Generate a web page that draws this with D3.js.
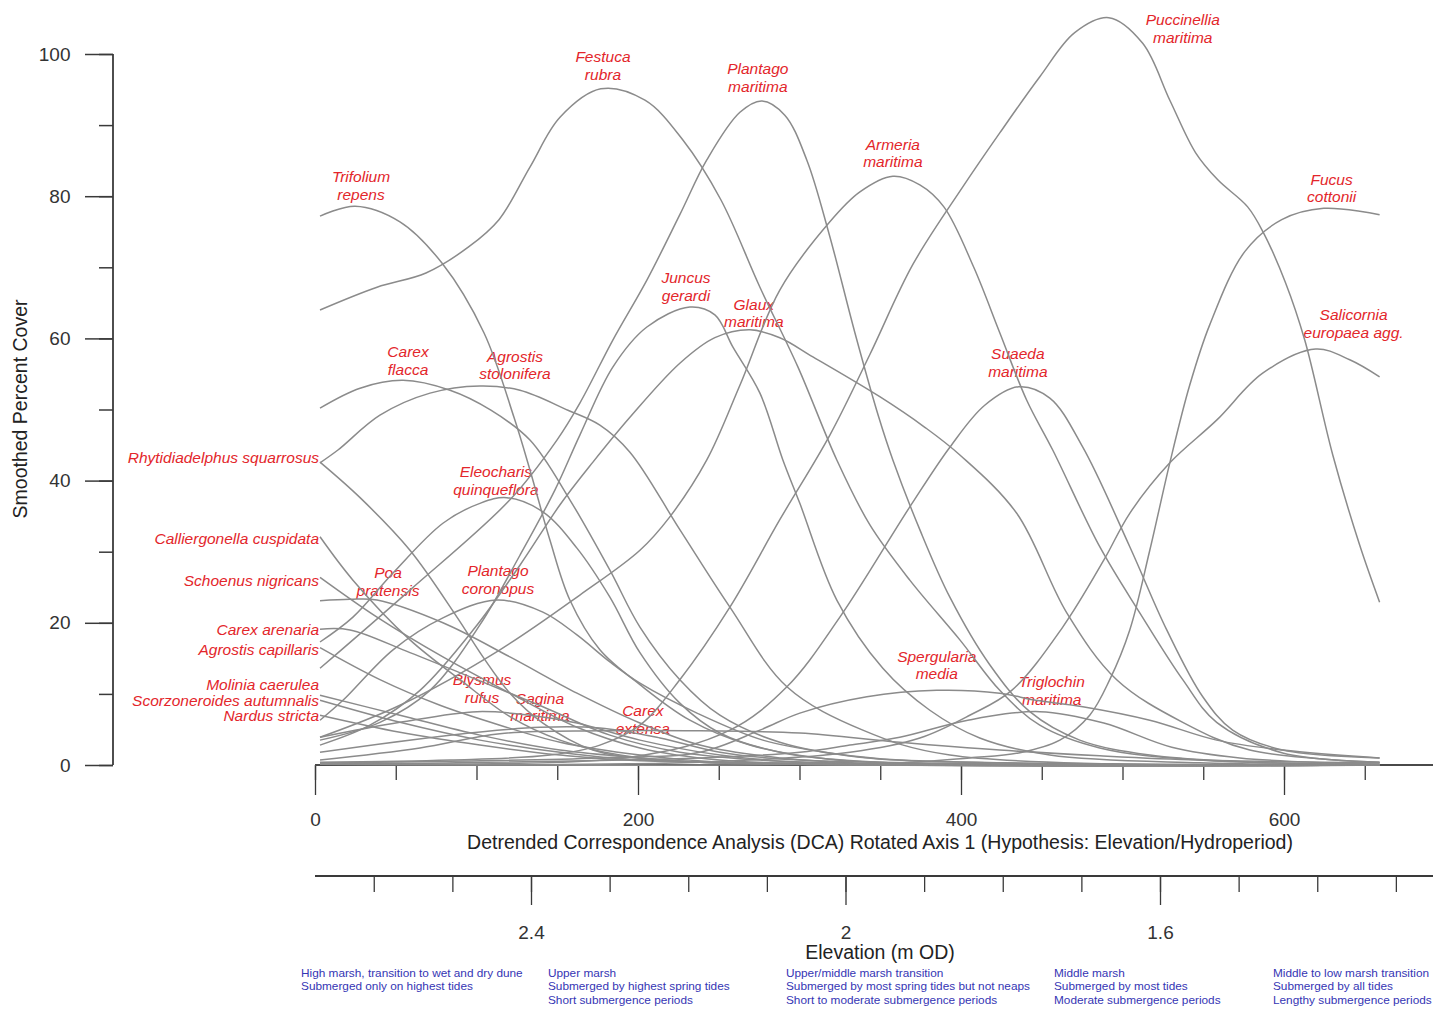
<!DOCTYPE html>
<html>
<head>
<meta charset="utf-8">
<script src="https://cdn.jsdelivr.net/npm/d3@7"></script>
<style>
  body { margin: 0; background: #fff; }
  svg { display: block; }
  text { font-family: "Liberation Sans", Arial, Helvetica, sans-serif; }
</style>
</head>
<body>
<svg id="chart" width="1433" height="1010"></svg>
<script>
// ---- Species response curves: [DCA axis 1 score, smoothed percent cover] ----
const trifoliumRepens = [[3.1,77.2],[24.8,78.6],[52.6,76.4],[78.6,70.6],[104.6,60.8],[123.2,48.9],[133.1,41.5],[145.5,31.6],[157.8,23.2],[176.4,16.2],[201.2,11.3],[232.1,6.3],[269.3,2.8],[318.8,0.8],[393.1,0.1],[659.2,0]];
const festucaRubra = [[3.1,64.0],[38.4,67.2],[68.7,69.2],[95.3,72.9],[113.9,76.7],[133.1,84.1],[151.7,91.1],[177.0,95.1],[204.3,93.5],[227.8,87.9],[251.3,79.5],[275.5,67.2],[299.0,56.0],[323.1,42.9],[343.5,33.8],[368.3,26.0],[399.3,17.6],[424.0,10.5],[448.8,5.6],[485.9,2.4],[547.8,0.7],[659.2,0.1]];
const plantagoMaritima = [[3.1,13.6],[58.8,24.6],[120.7,37.3],[149.8,45.7],[164.0,50.9],[184.5,59.8],[205.5,68.2],[225.9,77.4],[242.6,85.1],[263.1,91.8],[276.7,93.4],[290.9,91.4],[304.5,85.1],[318.2,74.8],[334.3,60.8],[349.1,48.9],[357.8,42.9],[374.5,33.1],[393.1,23.6],[417.8,14.1],[442.6,7.5],[473.5,3.5],[516.9,1.4],[578.8,0.4],[659.2,0.1]];
const armeriaMaritima = [[3.1,3.9],[52.6,8.4],[114.5,16.2],[164.0,23.9],[201.2,30.2],[219.7,34.9],[242.6,42.9],[263.1,53.4],[287.8,66.8],[318.8,76.4],[337.4,80.6],[357.8,82.8],[374.5,81.6],[389.4,78.5],[407.9,70.0],[424.0,60.8],[440.7,51.3],[456.8,44.3],[485.9,30.7],[510.7,21.4],[537.3,12.0],[558.3,6.0],[599.2,1.7],[659.2,0.4]];
const puccinelliaMaritima = [[3.1,0.4],[83.6,0.7],[145.5,1.4],[176.4,2.8],[201.2,5.6],[225.9,12.0],[256.9,22.2],[287.8,34.5],[318.8,46.4],[343.5,57.7],[370.2,70.4],[401.1,81.3],[424.0,88.9],[448.8,96.8],[470.4,103.0],[491.5,105.1],[512.5,101.5],[529.3,93.5],[545.3,86.1],[559.0,82.3],[577.5,78.5],[587.4,74.8],[601.0,67.8],[612.8,59.8],[630.2,43.6],[646.9,30.9],[659.2,22.9]];
const juncusGerardi = [[3.1,3.5],[40.2,6.0],[71.2,10.5],[102.1,19.7],[126.9,29.5],[148.6,38.7],[164.0,46.4],[184.5,56.0],[205.5,61.6],[232.1,64.4],[247.6,63.3],[258.7,58.8],[275.5,52.3],[289.7,42.9],[300.2,36.8],[323.1,23.2],[351.6,13.6],[380.7,7.7],[411.6,3.8],[455.0,1.4],[547.8,0.3],[659.2,0]];
const glauxMaritima = [[3.1,2.8],[34.0,5.6],[65.0,10.5],[99.0,19.3],[126.9,28.1],[151.7,36.6],[172.1,42.6],[195.0,48.9],[225.9,56.5],[247.6,60.1],[269.3,61.2],[287.8,60.1],[308.3,57.4],[349.7,51.8],[377.6,47.5],[399.3,43.6],[434.5,35.4],[465.5,21.4],[496.4,12.0],[537.3,6.0],[578.8,2.1],[659.2,0.4]];
const eleocharisQuinqueflora = [[3.1,17.3],[23.5,20.8],[48.3,27.0],[79.2,34.0],[102.1,36.8],[118.8,37.6],[141.1,35.6],[162.2,30.5],[182.6,23.6],[201.2,15.8],[225.9,8.7],[250.7,4.5],[287.8,1.8],[349.7,0.4],[659.2,0]];
const plantagoCoronopus = [[3.1,6.3],[17.3,9.1],[48.3,16.2],[79.2,20.7],[112.7,23.2],[141.1,21.5],[162.2,18.3],[182.6,14.5],[201.2,11.5],[236.5,7.3],[277.3,3.5],[318.8,1.7],[362.1,0.7],[659.2,0]];
const agrostisStolonifera = [[3.1,42.5],[14.2,44.3],[40.2,49.2],[71.2,52.3],[102.1,53.3],[126.9,52.7],[156.6,49.9],[176.4,47.8],[195.0,44.0],[225.9,33.1],[256.9,22.2],[292.2,11.0],[339.2,4.9],[393.1,1.4],[659.2,0]];
const carexFlacca = [[3.1,50.2],[27.9,53.0],[54.5,54.1],[83.6,52.7],[108.9,49.9],[133.1,45.7],[157.8,37.3],[182.6,27.4],[201.2,19.4],[225.9,12.0],[250.7,7.0],[287.8,3.2],[337.4,1.1],[424.0,0.3],[659.2,0]];
const rhytidiadelphusSquarrosus = [[3.1,42.6],[27.9,37.6],[58.8,30.2],[87.9,20.8],[104.0,15.2],[120.7,10.1],[141.1,5.9],[172.1,2.1],[213.6,0.7],[300.2,0.1],[659.2,0]];
const calliergonellaCuspidata = [[3.1,32.1],[23.5,26.0],[58.8,17.6],[89.8,12.0],[120.7,6.8],[151.7,3.5],[188.8,1.4],[238.3,0.4],[659.2,0]];
const schoenusNigricans = [[3.1,26.4],[38.4,20.8],[79.2,15.2],[120.7,10.1],[162.2,5.3],[201.2,2.4],[250.7,0.7],[331.2,0.1],[659.2,0]];
const poaPratensis = [[3.1,23.1],[21.7,23.3],[38.4,23.2],[79.2,20.0],[120.7,15.2],[162.2,10.1],[201.2,5.9],[238.3,2.8],[287.8,1.0],[362.1,0.1],[659.2,0]];
const carexArenaria = [[3.1,19.1],[21.7,19.0],[58.8,15.8],[100.3,12.0],[141.1,8.2],[182.6,4.2],[225.9,1.8],[275.5,0.7],[362.1,0.1],[659.2,0]];
const agrostisCapillaris = [[3.1,16.5],[40.2,12.0],[77.4,8.4],[114.5,5.6],[151.7,3.2],[201.2,1.4],[250.7,0.4],[659.2,0]];
const moliniaCaerulea = [[3.1,9.8],[52.6,7.0],[102.1,4.2],[151.7,2.1],[201.2,1.0],[250.7,0.3],[659.2,0]];
const scorzoneroidesAutumnalis = [[3.1,9.1],[52.6,6.0],[102.1,3.5],[151.7,1.8],[201.2,0.7],[659.2,0]];
const nardusStricta = [[3.1,7.0],[52.6,4.6],[102.1,2.8],[151.7,1.4],[201.2,0.6],[659.2,0]];
const blysmusRufus = [[3.1,3.9],[52.6,6.0],[100.3,7.5],[133.1,7.0],[162.2,5.9],[201.2,3.5],[250.7,1.4],[300.2,0.4],[659.2,0]];
const saginaMaritima = [[3.1,1.8],[83.6,4.2],[139.3,5.3],[176.4,5.2],[213.6,3.8],[250.7,1.8],[300.2,0.7],[659.2,0]];
const carexExtensa = [[3.1,0.7],[65.0,2.4],[114.5,4.4],[176.4,4.8],[238.3,4.8],[300.2,4.5],[362.1,3.2],[424.0,2.1],[485.9,1.3],[547.8,0.7],[659.2,0.3]];
const spergulariaMedia = [[3.1,0.3],[176.4,1.0],[238.3,1.8],[275.5,4.9],[300.2,7.3],[341.7,9.6],[385.0,10.5],[424.0,10.1],[446.3,9.1],[475.4,8.2],[516.9,6.3],[558.3,3.5],[599.2,2.1],[659.2,1.0]];
const triglochinMaritima = [[3.1,0.1],[238.3,1.0],[300.2,1.8],[331.2,2.8],[362.1,3.9],[404.2,6.3],[448.8,7.5],[488.4,5.9],[530.5,2.5],[572.6,1.0],[659.2,0.1]];
const suaedaMaritima = [[3.1,0.3],[195.0,1.1],[256.9,4.9],[292.2,11.0],[325.0,20.8],[368.3,36.3],[393.1,44.7],[414.7,50.6],[435.8,53.2],[455.0,51.6],[475.4,44.7],[504.5,30.7],[527.4,19.0],[549.7,9.6],[568.2,4.9],[599.2,2.1],[659.2,1.0]];
const fucusCottonii = [[3.1,0.1],[362.1,0.3],[405.4,1.0],[435.8,1.7],[461.2,3.5],[479.7,7.0],[492.1,12.0],[504.5,19.0],[516.9,30.2],[529.3,42.5],[541.6,53.4],[554.0,61.9],[575.7,72.2],[598.6,76.7],[624.6,78.3],[659.2,77.4]];
const salicorniaEuropaea = [[3.1,0.1],[238.3,0.4],[331.2,1.8],[374.5,3.8],[405.4,7.0],[431.4,10.5],[463.0,19.4],[488.4,28.8],[504.5,35.4],[529.3,42.5],[558.3,48.5],[586.8,55.1],[619.6,58.5],[640.7,57.0],[659.2,54.6]];

const coverSeries = [
  trifoliumRepens, festucaRubra, plantagoMaritima, armeriaMaritima, puccinelliaMaritima,
  juncusGerardi, glauxMaritima, eleocharisQuinqueflora, plantagoCoronopus, agrostisStolonifera,
  carexFlacca, rhytidiadelphusSquarrosus, calliergonellaCuspidata, schoenusNigricans, poaPratensis,
  carexArenaria, agrostisCapillaris, moliniaCaerulea, scorzoneroidesAutumnalis, nardusStricta,
  blysmusRufus, saginaMaritima, carexExtensa, spergulariaMedia, triglochinMaritima,
  suaedaMaritima, fucusCottonii, salicorniaEuropaea
];

// Species names, split into the lines they are printed on
const speciesLabels = [
  ["Trifolium", "repens"], ["Festuca", "rubra"], ["Plantago", "maritima"], ["Armeria", "maritima"],
  ["Puccinellia", "maritima"], ["Juncus", "gerardi"], ["Glaux", "maritima"], ["Eleocharis", "quinqueflora"],
  ["Plantago", "coronopus"], ["Agrostis", "stolonifera"], ["Carex", "flacca"], ["Rhytidiadelphus squarrosus"],
  ["Calliergonella cuspidata"], ["Schoenus nigricans"], ["Poa", "pratensis"], ["Carex arenaria"],
  ["Agrostis capillaris"], ["Molinia caerulea"], ["Scorzoneroides autumnalis"], ["Nardus stricta"],
  ["Blysmus", "rufus"], ["Sagina", "maritima"], ["Carex", "extensa"], ["Spergularia", "media"],
  ["Triglochin", "maritima"], ["Suaeda", "maritima"], ["Fucus", "cottonii"], ["Salicornia", "europaea agg."]
];
// Where each name sits (first line), in axis units [DCA score, cover]
const labelAnchors = [
  [28.5,82.7],[178.3,99.6],[274.2,97.9],[357.8,87.3],[537.3,104.8],[229.7,68.5],[271.7,64.8],[112.0,41.2],
  [113.3,27.3],[123.8,57.5],[57.6,58.1],[2.5,43.2],[2.5,31.8],[2.5,26.0],[45.2,27.0],[2.5,19.1],
  [2.5,16.3],[2.5,11.3],[2.5,9.1],[2.5,7.0],[103.4,12.0],[139.3,9.4],[203.0,7.6],[385.0,15.3],
  [456.2,11.7],[435.2,57.8],[629.5,82.4],[643.1,63.3]
];

// Axis ticks
const coverTicks = [0,10,20,30,40,50,60,70,80,90,100];
const coverLabels = [0,20,40,60,80,100];
const dcaTicks = [0,50,100,150,200,250,300,350,400,450,500,550,600,650];
const dcaLabels = [0,200,400,600];
const elevationTicks = [2.6,2.5,2.4,2.3,2.2,2.1,2.0,1.9,1.8,1.7,1.6,1.5,1.4,1.3];
const elevationLabels = [2.4,2.0,1.6];

// Marsh zone descriptions along the elevation axis
const zoneNotes = [
  ["High marsh, transition to wet and dry dune", "Submerged only on highest tides"],
  ["Upper marsh", "Submerged by highest spring tides", "Short submergence periods"],
  ["Upper/middle marsh transition", "Submerged by most spring tides but not neaps", "Short to moderate submergence periods"],
  ["Middle marsh", "Submerged by most tides", "Moderate submergence periods"],
  ["Middle to low marsh transition", "Submerged by all tides", "Lengthy submergence periods"]
];
const zoneStart = [2.6925, 2.3784, 2.0757, 1.7348, 1.4563];

// ---- Drawing ----
const W = 1433;
const svg = d3.select("#chart");
const axisColor = "#3a3a3a";
const curveColor = "#8b8b8b";
const labelColor = "#e3262b";
const noteColor = "#3535b4";

const x = d3.scaleLinear().domain([0, 600]).range([315, 1284]);
const y = d3.scaleLinear().domain([0, 100]).range([765, 54]);
const elev = d3.scaleLinear().domain([2.4, 1.6]).range([531, 1160]);

function styleAxis(g, width) {
  g.select(".domain").remove();
  g.selectAll(".tick line").attr("stroke", axisColor).attr("stroke-width", width);
  g.selectAll(".tick text").attr("fill", "#333").style("font-size", "19px");
}

// Y axis
const yAxis = svg.append("g").attr("transform", "translate(113,0)");
yAxis.append("g").call(d3.axisLeft(y).tickValues(coverTicks).tickSize(14).tickFormat(""))
  .call(g => styleAxis(g, 1.5));
yAxis.append("g").call(d3.axisLeft(y).tickValues(coverLabels).tickSize(28).tickPadding(14.5).tickFormat(d3.format("d")))
  .call(g => styleAxis(g, 1.5));
yAxis.append("line").attr("x1", 0).attr("x2", 0).attr("y1", y(100)).attr("y2", y(0))
  .attr("stroke", axisColor).attr("stroke-width", 1.8);

svg.append("text")
  .attr("transform", "translate(20,409) rotate(-90)")
  .attr("text-anchor", "middle").attr("dy", "0.35em")
  .attr("fill", "#222").style("font-size", "19.5px")
  .text("Smoothed Percent Cover");

// DCA axis
const xAxis = svg.append("g").attr("transform", "translate(0,765)");
xAxis.append("g").call(d3.axisBottom(x).tickValues(dcaTicks).tickSize(15).tickFormat(""))
  .call(g => styleAxis(g, 1.3));
xAxis.append("g").call(d3.axisBottom(x).tickValues(dcaLabels).tickSize(30).tickPadding(17.5).tickFormat(d3.format("d")))
  .call(g => styleAxis(g, 1.3));
xAxis.append("line").attr("x1", x(0)).attr("x2", W).attr("y1", 0).attr("y2", 0)
  .attr("stroke", "#4a4a4a").attr("stroke-width", 2);

svg.append("text")
  .attr("x", 880).attr("y", 842).attr("dy", "0.35em").attr("text-anchor", "middle")
  .attr("fill", "#222").style("font-size", "19.5px")
  .text("Detrended Correspondence Analysis (DCA) Rotated Axis 1 (Hypothesis: Elevation/Hydroperiod)");

// Elevation axis
const eAxis = svg.append("g").attr("transform", "translate(0,876)");
eAxis.append("g").call(d3.axisBottom(elev).tickValues(elevationTicks).tickSize(16).tickFormat(""))
  .call(g => styleAxis(g, 1.3));
eAxis.append("g").call(d3.axisBottom(elev).tickValues(elevationLabels).tickSize(29).tickPadding(20.5).tickFormat(d3.format("~g")))
  .call(g => styleAxis(g, 1.3));
eAxis.append("line").attr("x1", x(0)).attr("x2", W).attr("y1", 0).attr("y2", 0)
  .attr("stroke", "#3a3a3a").attr("stroke-width", 2);

svg.append("text")
  .attr("x", 880).attr("y", 952).attr("dy", "0.35em").attr("text-anchor", "middle")
  .attr("fill", "#222").style("font-size", "19.5px")
  .text("Elevation (m OD)");

// Zone notes
const notes = svg.append("g").attr("fill", noteColor).style("font-size", "11.8px");
zoneNotes.forEach((lines, i) => {
  const t = notes.append("text").attr("x", elev(zoneStart[i])).attr("y", 973);
  lines.forEach((s, j) => {
    t.append("tspan").attr("x", elev(zoneStart[i])).attr("y", 973 + j * 13.3).attr("dy", "0.35em").text(s);
  });
});

// Species names
const labels = svg.append("g").attr("fill", labelColor)
  .style("font-size", "15.5px").style("font-style", "italic");
speciesLabels.forEach((lines, i) => {
  const [ax, ay] = labelAnchors[i];
  const px = x(ax), py = y(ay);
  const t = labels.append("text").attr("text-anchor", lines.length > 1 ? "middle" : "end");
  lines.forEach((s, j) => {
    t.append("tspan").attr("x", px).attr("y", py + j * 17.5).attr("dy", "0.35em").text(s);
  });
});

// Response curves (centripetal Catmull-Rom through the smoothed values)
const line = d3.line()
  .x(d => x(d[0]))
  .y(d => y(d[1]))
  .curve(d3.curveCatmullRom.alpha(0.5));

svg.append("g")
  .selectAll("path")
  .data(coverSeries)
  .join("path")
  .attr("d", line)
  .attr("fill", "none")
  .attr("stroke", curveColor)
  .attr("stroke-width", 1.5);
</script>
</body>
</html>
